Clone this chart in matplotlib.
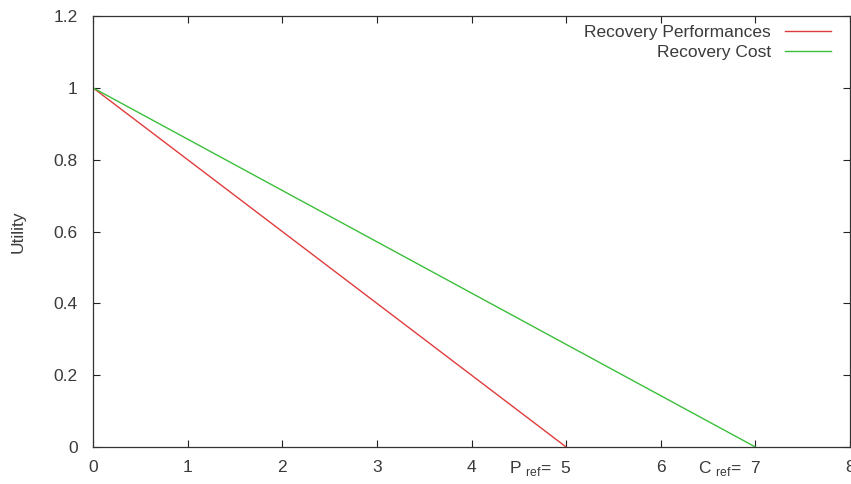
import matplotlib
matplotlib.use("Agg")
import matplotlib.pyplot as plt
import matplotlib.transforms as mtransforms

plt.rcParams['font.family'] = ['Liberation Sans', 'DejaVu Sans']

# Data
perf_x = [0, 5]
perf_y = [1, 0]
cost_x = [0, 7]
cost_y = [1, 0]
x_ticks = [0, 1, 2, 3, 4, 5, 6, 7, 8]
x_labels = ["0", "1", "2", "3", "4", r"P $_{\mathregular{ref}}$=  5", "6", r"C $_{\mathregular{ref}}$=  7", "8"]
y_ticks = [0, 0.2, 0.4, 0.6, 0.8, 1, 1.2]
y_labels = ["0", "0.2", "0.4", "0.6", "0.8", "1", "1.2"]

FS = 12.5
TC = '#3a3a3a'

fig = plt.figure(figsize=(8.51, 4.84), dpi=100)
ax = fig.add_axes([93/851, 37/484, 757/851, 431/484])

ax.plot(perf_x, perf_y, color='#e03c3c', lw=1.0, label='Recovery Performances')
ax.plot(cost_x, cost_y, color='#3cbf3c', lw=1.0, label='Recovery Cost')

ax.set_xlim(0, 8)
ax.set_ylim(0, 1.2)
ax.set_xticks(x_ticks)
ax.set_xticklabels(x_labels)
ax.set_yticks(y_ticks)
ax.set_yticklabels(y_labels)

ax.tick_params(direction='in', length=5, width=0.8, top=True, right=True,
               labelsize=FS, labelcolor=TC, color='#222222')
ax.tick_params(axis='x', pad=9)
ax.tick_params(axis='y', pad=11)

for s in ax.spines.values():
    s.set_color('#333333')
    s.set_linewidth(0.9)

# right-align the labelled reference ticks so the number sits at the tick
offset = mtransforms.ScaledTranslation(5/100, 0, fig.dpi_scale_trans)
for i, lab in enumerate(ax.get_xticklabels()):
    if i in (5, 7):
        lab.set_horizontalalignment('right')
        lab.set_transform(lab.get_transform() + offset)

ax.set_ylabel('Utility', fontsize=FS, color=TC, labelpad=20)

leg = ax.legend(loc='upper right', frameon=False, markerfirst=False,
                fontsize=FS, handlelength=2.65, handletextpad=0.8,
                labelspacing=0.3, borderaxespad=0, borderpad=0,
                bbox_to_anchor=(0.975, 0.98))
for t in leg.get_texts():
    t.set_color(TC)

fig.savefig('out.png', dpi=100)
